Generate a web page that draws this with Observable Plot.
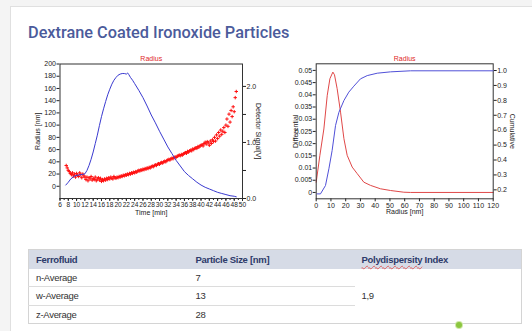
<!DOCTYPE html>
<html><head><meta charset="utf-8">
<script src="https://cdn.jsdelivr.net/npm/d3@7"></script>
<script src="https://cdn.jsdelivr.net/npm/@observablehq/plot@0.6"></script>
<style>
html,body{margin:0;padding:0;background:#f4f4f4;width:532px;height:331px;overflow:hidden;font-family:"Liberation Sans",Arial,sans-serif;}
#card{position:absolute;left:10px;top:6px;width:540px;height:340px;background:#fff;border:1px solid #e0e0e0;}
#title{position:absolute;left:28px;top:24px;font-family:Roboto,"Liberation Sans",sans-serif;font-weight:500;font-size:16.3px;line-height:18px;color:#4b5b9b;white-space:nowrap;}
.abs{position:absolute;}
.abs svg{display:block;}
#tbl{position:absolute;left:28px;top:249px;width:494px;border-collapse:collapse;table-layout:fixed;font-size:9.5px;letter-spacing:-0.3px;border:1px solid #d4d4d4;}
#tbl th{background:#d6dbe6;color:#2d3a6a;font-weight:bold;text-align:left;padding:0 0 0 7px;height:19px;}
#tbl td{color:#333;padding:0 0 0 7px;text-align:left;}
#tbl tr.r td.c{border-bottom:1px solid #dcdcdc;}
#tbl td.pdi{vertical-align:middle;}
.wavy{text-decoration:underline wavy #e06060;text-decoration-thickness:1px;text-underline-offset:2px;}
#dot{position:absolute;left:456px;top:322px;width:6px;height:6px;border-radius:50%;background:#8cc63f;box-shadow:0 0 0 1px #cfe8a8;}
</style></head>
<body>
<div id="card"></div>
<div id="title">Dextrane Coated Ironoxide Particles</div>
<div id="left1" class="abs" style="left:0;top:45px"></div>
<div id="left2" class="abs" style="left:0;top:45px"></div>
<div id="right1" class="abs" style="left:270px;top:45px"></div>
<div id="right2" class="abs" style="left:270px;top:45px"></div>
<div id="tablewrap"></div>
<div id="dot"></div>
<script>
// ---------- DATA ----------
// Left chart: radius [nm] vs time [min] (scatter)
const radiusScatter = [
[7.5,34],[7.75,30],[8,26],[8.25,24],[8.5,21],
[8.75,19],[9,22],[9.25,17],[9.5,20],[9.75,15],[10,21],[10.25,18],[10.5,16],[10.75,22],[11,19],[11.25,14],[11.5,20],[11.75,17],[12,15],
[12.25,11],[12.5,15],[12.75,9],[13,14],[13.25,12],[13.5,16],[13.75,10],[14,13],[14.25,11],[14.5,15],[14.75,9],[15,12],[15.25,14],[15.5,10],[15.75,13],[16,8],[16.25,11],[16.5,9],[16.75,12],[17,10],
[17.25,13],[17.5,11],[17.75,14],[18,12],[18.25,15],[18.5,13],[18.75,12],[19,16],[19.25,14],[19.5,13],[19.75,15],[20,14],
[20.25,16],[20.5,15],[20.75,17],[21,16],[21.25,18],[21.5,17],[21.75,19],[22,18],[22.25,20],[22.5,19],[22.75,21],[23,20],[23.25,22],[23.5,21],[23.75,23],[24,22],
[24.25,24],[24.5,23],[24.75,25],[25,26],[25.25,25],[25.5,27],[25.75,26],[26,28],[26.25,27],[26.5,29],[26.75,28],[27,30],[27.25,29],[27.5,31],[27.75,30],[28,32],
[28.25,33],[28.5,32],[28.75,34],[29,35],[29.25,34],[29.5,36],[29.75,37],[30,36],[30.25,38],[30.5,39],[30.75,38],[31,40],[31.25,41],[31.5,40],[31.75,42],[32,43],
[32.25,44],[32.5,43],[32.75,45],[33,46],[33.25,45],[33.5,47],[33.75,48],[34,47],[34.25,49],[34.5,50],[34.75,51],[35,50],[35.25,52],[35.5,51],[35.75,53],[36,54],
[36.25,55],[36.5,54],[36.75,57],[37,56],[37.25,58],[37.5,59],[37.75,58],[38,61],[38.25,60],[38.5,62],[38.75,63],[39,62],[39.25,65],[39.5,64],[39.75,66],[40,67],
[40.25,68],[40.5,66],[40.75,70],[41,72],[41.25,69],[41.5,73],[41.75,71],[42,67],[42.25,74],[42.5,70],[42.75,76],[43,73],
[43.25,80],[43.5,74],[43.75,84],[44,78],[44.25,88],[44.5,82],[44.75,92],[45,85],[45.25,90],[45.5,96],[45.75,88],[46,100],
[46.25,110],[46.5,98],[46.75,118],[47,105],[47.25,124],[47.5,114],[47.75,130],[48,122],[48.25,145],[48.5,155]
];
// Left chart: detector signal [V] vs time [min]
const detTime   = [7.4,8,8.6,9.5,10.5,11.5,12,12.5,13,13.5,14,14.5,15,15.5,16,16.5,17,17.5,18,18.5,19,19.5,20,20.5,21,21.5,22,22.3,22.6,23,23.5,24,25,26,27,28,29,30,31,32,33,34,35,36,37,38,39,40,41,42,43,44,45,46,47,48,48.5];
const detSignal = [0.24,0.29,0.35,0.40,0.42,0.43,0.44,0.50,0.59,0.70,0.83,0.98,1.13,1.30,1.46,1.60,1.73,1.85,1.95,2.04,2.11,2.16,2.20,2.22,2.23,2.23,2.22,2.24,2.21,2.16,2.11,2.05,1.93,1.80,1.65,1.49,1.35,1.20,1.06,0.92,0.80,0.68,0.58,0.48,0.41,0.35,0.29,0.24,0.20,0.17,0.14,0.11,0.09,0.07,0.05,0.04,0.03];
// Right chart: differential distribution vs radius [nm]
const diffRadius = [0,2.5,5.2,7.5,9.3,11.3,12.4,14.2,16.5,18.8,21,24.4,27.8,32.3,36.8,43.6,50.4,59.4,64,120];
const diffValue  = [0.0042,0.0152,0.026,0.0398,0.0466,0.0493,0.0482,0.0425,0.0329,0.022,0.0152,0.0104,0.0077,0.0042,0.0029,0.0015,0.0008,0.0001,0,0];
// Right chart: cumulative distribution vs radius [nm]
const cumRadius = [0.7,2.9,6.3,8.6,10.8,13.1,15.4,18.8,22.1,25.5,30,34.6,41.4,50.4,64,120];
const cumValue  = [0.173,0.173,0.229,0.341,0.464,0.631,0.72,0.799,0.855,0.895,0.944,0.966,0.982,0.991,0.998,0.998];
// Ticks
const timeTicks = [6,8,10,12,14,16,18,20,22,24,26,28,30,32,34,36,38,40,42,44,46,48,50];
const radiusTicks = [0,20,40,60,80,100,120,140,160,180,200];
const signalTicks = [0,0.5,1,1.5,2];
const sizeTicks = [0,10,20,30,40,50,60,70,80,90,100,110,120];
const diffTicks = [0,0.005,0.01,0.015,0.02,0.025,0.03,0.035,0.04,0.045,0.05];
const cumTicks = [0.2,0.3,0.4,0.5,0.6,0.7,0.8,0.9,1.0];
// Table
const tableHeader = ["Ferrofluid","Particle Size [nm]","Polydispersity Index"];
const avgNames = ["n-Average","w-Average","z-Average"];
const avgSizes = ["7","13","28"];
const pdi = "1,9";

// ---------- CHARTS ----------
const font = {fontFamily:"'Liberation Sans',Arial,sans-serif",fontSize:"7px",background:"transparent",color:"#222",overflow:"visible"};
const L = {width:270,height:180,marginLeft:59.5,marginRight:28,marginTop:18.5,marginBottom:27};
const R = {width:262,height:180,marginLeft:45.7,marginRight:39.3,marginTop:18.3,marginBottom:26.7};
const one = [0];

const left1 = Plot.plot({...L, style:font,
  x:{domain:[6,50]}, y:{domain:[-20,200]},
  marks:[
    Plot.axisX({ticks:d3.range(6,51,1), tickSize:2, tickFormat:()=>"", label:null}),
    Plot.axisX({ticks:timeTicks, tickSize:3, tickPadding:1, fontSize:6.6, label:null}),
    Plot.axisY({ticks:radiusTicks, tickSize:3, tickPadding:1, label:null}),
    Plot.dot(radiusScatter,{x:d=>d[0], y:d=>d[1], symbol:"plus", r:1.2, stroke:"#ff1010", strokeWidth:1}),
    Plot.frame({stroke:"#333", strokeWidth:1}),
    Plot.text(one,{frameAnchor:"top", dy:-7.5, text:()=>"Radius", fill:"#e02828"}),
    Plot.text(one,{frameAnchor:"bottom", dy:16, text:()=>"Time [min]", fill:"#222"}),
    Plot.text(one,{frameAnchor:"left", dx:-22.5, rotate:-90, textAnchor:"middle", text:()=>"Radius [nm]", fill:"#222"})
  ]});
document.getElementById("left1").append(left1);

const left2 = Plot.plot({...L, style:font,
  x:{domain:[6,50], axis:null}, y:{domain:[0,2.4]},
  marks:[
    Plot.axisY({anchor:"right", ticks:signalTicks, tickSize:3, tickPadding:1, tickFormat:d=>d%1===0?d.toFixed(1):"", label:null}),
    Plot.line(detTime.map((t,i)=>[t,detSignal[i]]),{x:d=>d[0], y:d=>d[1], stroke:"#3a3ad0", strokeWidth:1}),
    Plot.text(one,{frameAnchor:"right", dx:16, rotate:90, textAnchor:"middle", text:()=>"Detector Signal[V]", fill:"#222"})
  ]});
document.getElementById("left2").append(left2);

const right1 = Plot.plot({...R, style:font,
  x:{domain:[0,120]}, y:{domain:[-0.0026,0.0527]},
  marks:[
    Plot.axisX({ticks:sizeTicks, tickSize:3, tickPadding:1, label:null}),
    Plot.axisY({ticks:diffTicks, tickSize:3, tickPadding:1, tickFormat:d=>String(+d.toFixed(3)), label:null}),
    Plot.line(diffRadius.map((r,i)=>[r,diffValue[i]]),{x:d=>d[0], y:d=>d[1], stroke:"#e04848", strokeWidth:1}),
    Plot.frame({stroke:"#333", strokeWidth:1}),
    Plot.text(one,{frameAnchor:"top", dy:-7.5, text:()=>"Radius", fill:"#e02828"}),
    Plot.text(one,{frameAnchor:"bottom", dy:15, text:()=>"Radius [nm]", fill:"#222"}),
    Plot.text(one,{frameAnchor:"left", dx:-20.7, rotate:-90, textAnchor:"middle", text:()=>"Differential", fill:"#222"})
  ]});
document.getElementById("right1").append(right1);

const right2 = Plot.plot({...R, style:font,
  x:{domain:[0,120], axis:null}, y:{domain:[0.14,1.045]},
  marks:[
    Plot.axisY({anchor:"right", ticks:cumTicks, tickSize:3, tickPadding:1, tickFormat:d=>d.toFixed(1), label:null}),
    Plot.line(cumRadius.map((r,i)=>[r,cumValue[i]]),{x:d=>d[0], y:d=>d[1], stroke:"#5050d8", strokeWidth:1}),
    Plot.text(one,{frameAnchor:"right", dx:19, rotate:90, textAnchor:"middle", text:()=>"Cumulative", fill:"#222"})
  ]});
document.getElementById("right2").append(right2);

// ---------- TABLE ----------
const rowH = [17,19,18];
let html = '<table id="tbl"><colgroup><col style="width:160px"><col style="width:166px"><col></colgroup>';
html += '<tr><th>'+tableHeader[0]+'</th><th>'+tableHeader[1]+'</th><th><span class="wavy">Polydispersity</span> Index</th></tr>';
avgNames.forEach((n,i)=>{
  const cls = i<2 ? ' class="c"' : '';
  html += '<tr class="r" style="height:'+rowH[i]+'px"><td'+cls+'>'+n+'</td><td'+cls+'>'+avgSizes[i]+'</td>'+(i===0?'<td class="pdi" rowspan="3">'+pdi+'</td>':'')+'</tr>';
});
html += '</table>';
document.getElementById("tablewrap").innerHTML = html;
</script>
</body></html>
